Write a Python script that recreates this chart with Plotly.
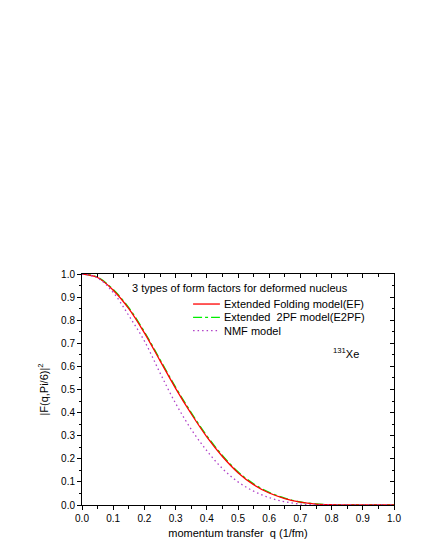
import plotly.graph_objects as go

# momentum transfer q (1/fm)
q = [0.0, 0.05, 0.1, 0.15, 0.2, 0.25, 0.3, 0.35, 0.4, 0.45, 0.5,
     0.55, 0.6, 0.65, 0.7, 0.75, 0.8, 0.85, 0.9, 0.95, 1.0]

# |F(q, Pi/6)|^2
ef = [1.0, 0.985, 0.93, 0.85, 0.745, 0.625, 0.505, 0.395, 0.295, 0.21, 0.14,
      0.088, 0.052, 0.028, 0.012, 0.004, 0.001, 0.0, 0.0, 0.0, 0.0]
e2pf = [1.0, 0.986, 0.933, 0.854, 0.75, 0.63, 0.51, 0.4, 0.3, 0.215, 0.144,
        0.092, 0.055, 0.03, 0.013, 0.005, 0.001, 0.0, 0.0, 0.0, 0.0]
nmf = [1.0, 0.983, 0.92, 0.82, 0.71, 0.572, 0.44, 0.328, 0.235, 0.158, 0.1,
       0.06, 0.032, 0.014, 0.004, 0.001, 0.0, 0.0, 0.0, 0.0, 0.0]

names = ["Extended Folding model(EF)", "Extended  2PF model(E2PF)", "NMF model"]
colors = ["#ff0000", "#00ee00", "#b040c8"]
dashes = ["solid", "dashdot", "1.5px,3px"]

FONT = "Arial, Liberation Sans, sans-serif"

fig = go.Figure()

# draw green first so the red line sits on top of it, like the reference
series = [ef, e2pf, nmf]
for i in [1, 0, 2]:
    fig.add_trace(go.Scatter(
        x=q, y=series[i], mode="lines", name=names[i], showlegend=False,
        line={"color": colors[i], "width": 1.3, "dash": dashes[i], "shape": "spline"},
    ))
# invisible trace so the mirrored (inside-tick) axes get drawn
fig.add_trace(go.Scatter(
    x=[None], y=[None], xaxis="x2", yaxis="y2", showlegend=False, hoverinfo="skip",
))

# hand-made compact legend (row spacing tighter than plotly's legend allows)
leg_y = [0.87, 0.8125, 0.755]
shapes, annotations = [], []
for ly, name, color, dash in zip(leg_y, names, colors, dashes):
    shapes.append({"type": "line", "xref": "x", "yref": "y", "x0": 0.356, "x1": 0.442,
                   "y0": ly, "y1": ly, "line": {"color": color, "width": 1.3, "dash": dash}})
    annotations.append({"text": name, "x": 0.449, "y": ly, "xref": "x", "yref": "y",
                        "xanchor": "left", "showarrow": False, "font": {"size": 11}})

annotations += [
    {"text": "3 types of form factors for deformed nucleus", "x": 0.506, "y": 0.94,
     "xref": "x", "yref": "y", "showarrow": False, "font": {"size": 11}},
    {"text": "<sup>131</sup>Xe", "x": 0.845, "y": 0.66,
     "xref": "x", "yref": "y", "showarrow": False, "font": {"size": 11}},
]

axis_common = dict(
    showgrid=False, zeroline=False, showline=True, linecolor="black", linewidth=1,
    tickfont={"size": 10, "color": "black", "family": FONT},
    ticklen=4, tickcolor="black", tickwidth=1,
)

# page body has an 8px margin, so the margins are shifted to compensate
fig.update_layout(
    width=432, height=559,
    margin={"l": 74, "r": 46, "t": 266, "b": 62},
    paper_bgcolor="white", plot_bgcolor="white",
    font={"family": FONT, "size": 11, "color": "black"},
    showlegend=False,
    xaxis=dict(
        axis_common, range=[0, 1.0], dtick=0.1, tickformat=".1f", ticks="outside",
        minor={"dtick": 0.05, "ticks": "outside", "ticklen": 2.5, "tickcolor": "black"},
        title={"text": "momentum transfer  q (1/fm)", "font": {"size": 11}, "standoff": 6},
    ),
    yaxis=dict(
        axis_common, range=[0, 1.0], dtick=0.1, tickformat=".1f", ticks="outside",
        minor={"dtick": 0.05, "ticks": "outside", "ticklen": 2.5, "tickcolor": "black"},
        title={"text": "|F(q,Pi/6)|<sup>2</sup>", "font": {"size": 11}, "standoff": 10},
    ),
    xaxis2=dict(
        axis_common, overlaying="x", side="top", range=[0, 1.0], dtick=0.1,
        ticks="inside", showticklabels=False,
        minor={"dtick": 0.05, "ticks": "inside", "ticklen": 2.5, "tickcolor": "black"},
    ),
    yaxis2=dict(
        axis_common, overlaying="y", side="right", range=[0, 1.0], dtick=0.1,
        ticks="inside", showticklabels=False,
        minor={"dtick": 0.05, "ticks": "inside", "ticklen": 2.5, "tickcolor": "black"},
    ),
    shapes=shapes,
    annotations=annotations,
)

fig.write_html("out.html")
